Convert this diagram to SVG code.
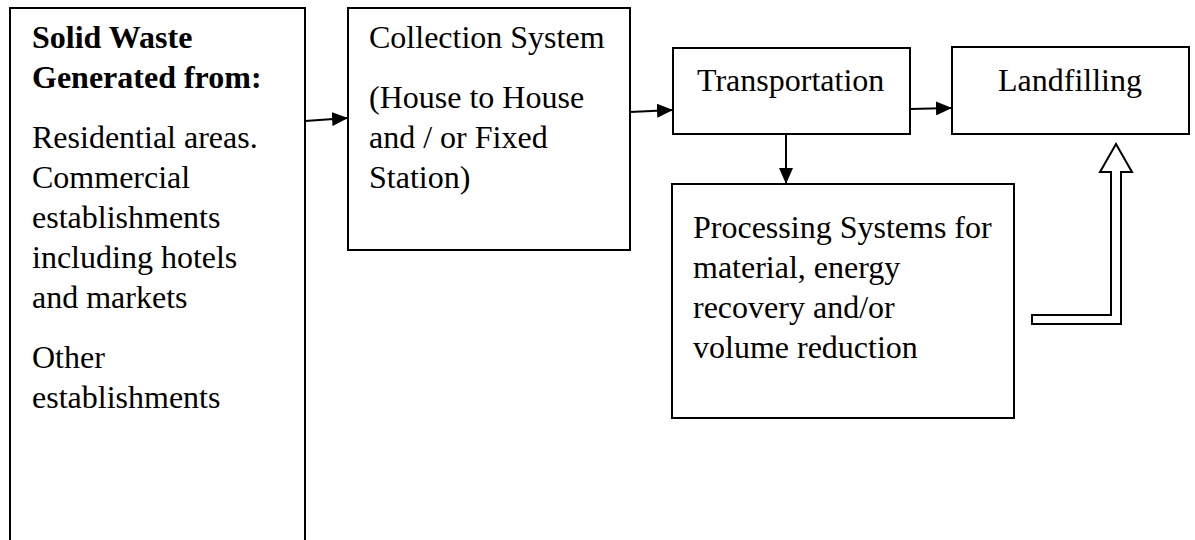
<svg xmlns="http://www.w3.org/2000/svg" width="1195" height="540" viewBox="0 0 1195 540">
<style>
.box{fill:#fff;stroke:#000;stroke-width:2}
.t{font-family:'Liberation Serif','DejaVu Serif',serif;font-size:32px;fill:#000}
.b{font-weight:bold}
.c{stroke:#000;stroke-width:2;fill:none}
</style>
<defs>
<marker id="ah" markerWidth="16" markerHeight="14" refX="16" refY="7" orient="auto" markerUnits="userSpaceOnUse">
<path d="M0,0 L16,7 L0,14 Z" fill="#000"/>
</marker>
</defs>
<rect width="1195" height="540" fill="#fff"/>
<g id="source" font-family="Liberation Serif">
<rect class="box" x="10" y="8" width="295" height="560"/>
<text class="t b" x="32" y="48">Solid Waste</text>
<text class="t b" x="32" y="88">Generated from:</text>
<text class="t" x="32" y="148">Residential areas.</text>
<text class="t" x="32" y="188">Commercial</text>
<text class="t" x="32" y="228">establishments</text>
<text class="t" x="32" y="268">including hotels</text>
<text class="t" x="32" y="308">and markets</text>
<text class="t" x="32" y="368">Other</text>
<text class="t" x="32" y="408">establishments</text>
</g>
<g id="collection">
<rect class="box" x="348" y="8" width="282" height="242"/>
<text class="t" x="369" y="48">Collection System</text>
<text class="t" x="369" y="108">(House to House</text>
<text class="t" x="369" y="148">and / or Fixed</text>
<text class="t" x="369" y="188">Station)</text>
</g>
<g id="transportation">
<rect class="box" x="673" y="48" width="237" height="86"/>
<text class="t" x="697" y="91">Transportation</text>
</g>
<g id="landfilling">
<rect class="box" x="952" y="47" width="237" height="87"/>
<text class="t" x="998" y="91">Landfilling</text>
</g>
<g id="processing">
<rect class="box" x="672" y="184" width="342" height="234"/>
<text class="t" x="693" y="238">Processing Systems for</text>
<text class="t" x="693" y="278">material, energy</text>
<text class="t" x="693" y="318">recovery and/or</text>
<text class="t" x="693" y="358">volume reduction</text>
</g>
<g id="connectors">
<line class="c" x1="305" y1="121" x2="348" y2="118" marker-end="url(#ah)"/>
<line class="c" x1="630" y1="112" x2="673" y2="110" marker-end="url(#ah)"/>
<line class="c" x1="910" y1="109" x2="952" y2="108" marker-end="url(#ah)"/>
<line class="c" x1="786" y1="134" x2="786" y2="184" marker-end="url(#ah)"/>
<path d="M1032,315 L1111,315 L1111,172 L1100,172 L1116,144 L1132,172 L1121,172 L1121,324 L1032,324 Z" fill="#fff" stroke="#000" stroke-width="2"/>
</g>
</svg>
